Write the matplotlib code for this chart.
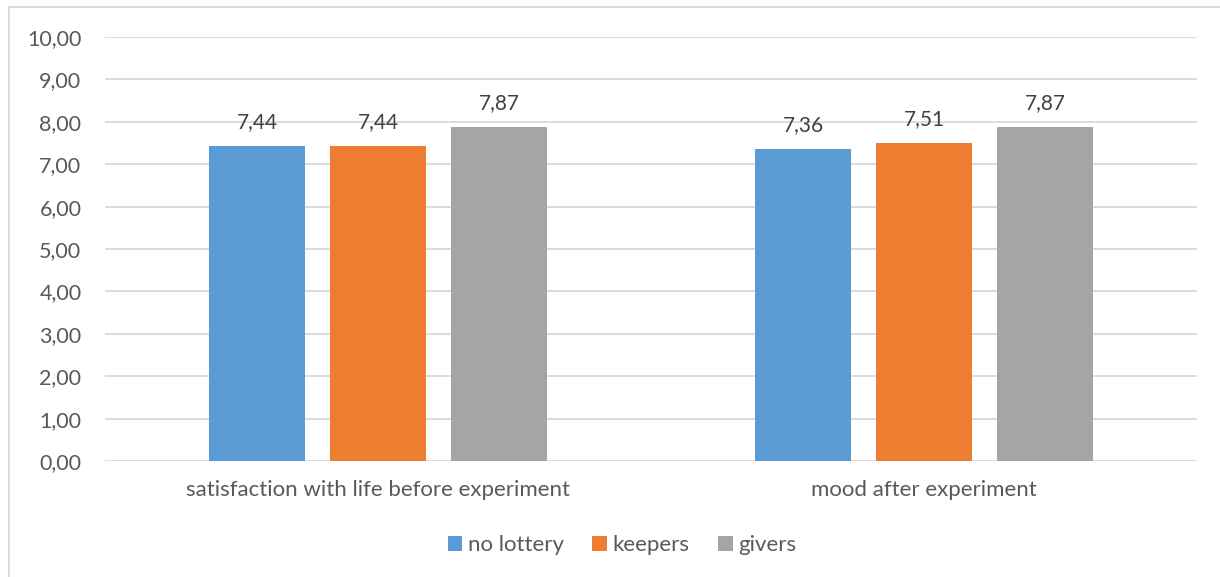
import matplotlib
matplotlib.use("Agg")
import numpy as np
import matplotlib.pyplot as plt
from matplotlib.patches import Rectangle
from matplotlib.ticker import FuncFormatter

categories = ["satisfaction with life before experiment", "mood after experiment"]
series_names = ["no lottery", "keepers", "givers"]
no_lottery = [7.44, 7.36]
keepers = [7.44, 7.51]
givers = [7.87, 7.87]
colors = ["#5B9BD5", "#ED7D31", "#A5A5A5"]

plt.rcParams['font.family'] = ['Lato', 'DejaVu Sans']
txt = "#595959"

fig = plt.figure(figsize=(12.2, 5.77), dpi=100)
ax = fig.add_axes([105/1220, 1-461/577, (1197-105)/1220, (461-37)/577])

x = np.arange(len(categories))
width = 0.176
step = 0.2216
for i, (vals, name) in enumerate(zip([no_lottery, keepers, givers], series_names)):
    bars = ax.bar(x + (i-1)*step, vals, width=width, color=colors[i], label=name, zorder=3)
    ax.bar_label(bars, labels=[("%.2f" % v).replace(".", ",") for v in vals],
                 padding=10, fontsize=15, color="#404040")

ax.set_xlim(-0.5, 1.5)
ax.set_ylim(0, 10)
ax.set_yticks(np.arange(0, 11, 1))
ax.yaxis.set_major_formatter(FuncFormatter(lambda v, p: ("%.2f" % v).replace(".", ",")))
ax.set_xticks(x)
ax.set_xticklabels(categories)
ax.tick_params(axis='y', length=0, pad=17, labelsize=15.5, labelcolor=txt)
ax.tick_params(axis='x', length=0, pad=14, labelsize=16, labelcolor=txt)
ax.grid(axis='y', color="#D9D9D9", linewidth=1.3, zorder=0)
for s in ax.spines.values():
    s.set_visible(False)

fig.legend(loc='center', bbox_to_anchor=(622/1220, 1-545/577), ncol=3, frameon=False,
           fontsize=16, labelcolor=txt, handlelength=0.65, handleheight=0.65,
           handletextpad=0.25, columnspacing=1.3)

fig.patches.append(Rectangle((9/1220, -0.1), 1.2, 1-7/577+0.1, transform=fig.transFigure,
                             fill=False, edgecolor="#D9D9D9", linewidth=1.3))

fig.savefig("out.png", dpi=100)
